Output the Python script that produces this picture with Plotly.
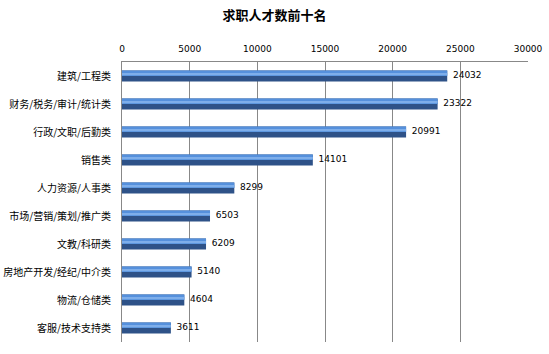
import plotly.graph_objects as go

categories = ["建筑/工程类", "财务/税务/审计/统计类", "行政/文职/后勤类", "销售类", "人力资源/人事类",
              "市场/营销/策划/推广类", "文教/科研类", "房地产开发/经纪/中介类", "物流/仓储类", "客服/技术支持类"]
values = [24032, 23322, 20991, 14101, 8299, 6503, 6209, 5140, 4604, 3611]
tick_vals = [0, 5000, 10000, 15000, 20000, 25000, 30000]
title_text = "求职人才数前十名"

cjk = "Noto Sans CJK SC, DejaVu Sans, sans-serif"
num_font = "DejaVu Sans, Liberation Sans, sans-serif"

fig = go.Figure()
# dark lower body
fig.add_trace(go.Bar(y=categories, x=values, orientation="h", width=0.4, offset=-0.2,
                     marker=dict(color="#2e5288", line=dict(width=0)), hoverinfo="skip"))
# light upper half
fig.add_trace(go.Bar(y=categories, x=values, orientation="h", width=0.2, offset=-0.2,
                     marker=dict(color="#5590dc", line=dict(width=0)), hoverinfo="skip"))
# highlight stripe
fig.add_trace(go.Bar(y=categories, x=values, orientation="h", width=0.05, offset=-0.08,
                     marker=dict(color="#7eaeea", line=dict(width=0)), hoverinfo="skip"))
# value labels
fig.add_trace(go.Scatter(y=categories, x=values, mode="text", text=["  " + str(v) for v in values],
                         textposition="middle right",
                         textfont=dict(family=num_font, size=9, color="#000000"), hoverinfo="skip"))

fig.update_layout(
    width=549, height=354,
    margin=dict(l=122, r=21, t=62, b=12, autoexpand=False),
    paper_bgcolor="white", plot_bgcolor="white",
    barmode="overlay", showlegend=False,
    title=dict(text="<b>" + title_text + "</b>", x=0.5, xanchor="center", y=0.955, yanchor="middle",
               font=dict(family=cjk, size=13, color="#000000")),
    xaxis=dict(side="top", range=[0, 30000], tickvals=tick_vals, ticktext=[str(t) for t in tick_vals],
               showgrid=True, gridcolor="#888888", gridwidth=1, zeroline=False, automargin=False,
               showline=True, linecolor="#888888", linewidth=1, ticks="", ticklabelstandoff=5,
               tickfont=dict(family=num_font, size=9, color="#000000")),
    yaxis=dict(autorange="reversed", showgrid=False, zeroline=False, showline=True, automargin=False,
               linecolor="#888888", linewidth=1, ticks="", ticklabelstandoff=8,
               tickfont=dict(family=cjk, size=10, color="#000000")),
)

fig.write_html("out.html")
